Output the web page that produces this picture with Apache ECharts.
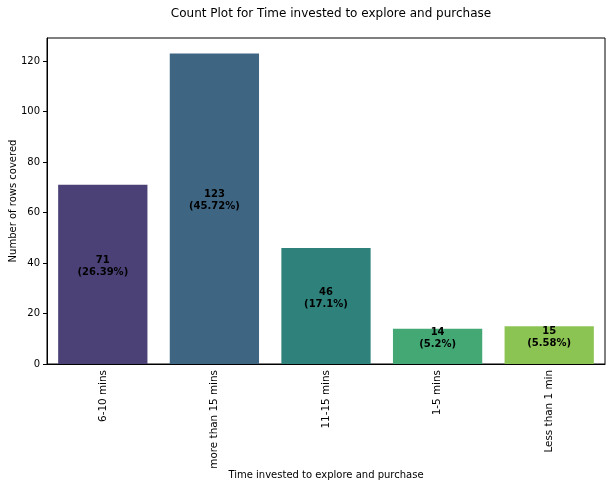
<!DOCTYPE html>
<html><head><meta charset="utf-8">
<script src="https://cdn.jsdelivr.net/npm/echarts@6/dist/echarts.min.js"></script>
<style>html,body{margin:0;padding:0;background:#fff}#c{width:612px;height:487px}</style>
</head><body><div id="c"></div>
<script>
const categories = ['6-10 mins', 'more than 15 mins', '11-15 mins', '1-5 mins', 'Less than 1 min'];
const counts = [71, 123, 46, 14, 15];
const percents = ['26.39%', '45.72%', '17.1%', '5.2%', '5.58%'];
const barColors = ['#4b4176', '#3e6683', '#2f827c', '#44a874', '#8cc454'];
const yTicks = [0, 20, 40, 60, 80, 100, 120];

const font = 'DejaVu Sans';
const chart = echarts.init(document.getElementById('c'));
chart.setOption({
  animation: false,
  textStyle: {fontFamily: font},
  title: {text: 'Count Plot for Time invested to explore and purchase', left: 326, textAlign: 'center', top: 3,
    textStyle: {fontFamily: font, fontSize: 12, fontWeight: 'normal', color: '#000'}},
  grid: {left: 47, right: 7, top: 38, bottom: 123, outerBoundsMode: 'none', containLabel: false,
    show: true, borderColor: '#000', borderWidth: 1, backgroundColor: 'transparent'},
  xAxis: {type: 'category', data: categories,
    name: 'Time invested to explore and purchase', nameLocation: 'middle', nameGap: 106, nameMoveOverlap: false,
    nameTextStyle: {fontFamily: font, fontSize: 10, color: '#000'},
    axisLine: {lineStyle: {color: '#000', width: 1}},
    axisTick: {alignWithLabel: true, length: 4, lineStyle: {color: '#000'}},
    axisLabel: {rotate: 90, fontFamily: font, fontSize: 10.4, color: '#000', margin: 6}},
  yAxis: {type: 'value', min: 0, max: 129.15,
    name: 'Number of rows covered', nameLocation: 'middle', nameGap: 29, nameMoveOverlap: false,
    nameTextStyle: {fontFamily: font, fontSize: 10, color: '#000'},
    splitLine: {show: false},
    axisLine: {show: true, lineStyle: {color: '#000', width: 1}},
    axisTick: {show: true, length: 4, lineStyle: {color: '#000'}, customValues: yTicks},
    axisLabel: {fontFamily: font, fontSize: 10, color: '#000', margin: 7, customValues: yTicks}},
  series: [{type: 'bar', barCategoryGap: '20%',
    data: counts.map((v, i) => ({value: v, itemStyle: {color: barColors[i]}})),
    label: {show: true, position: 'inside', offset: [0, -8], fontFamily: font, fontSize: 10, fontWeight: 'bold', color: '#000', lineHeight: 12,
      formatter: p => p.value + '\n(' + percents[p.dataIndex] + ')'}}]
});
</script></body></html>
